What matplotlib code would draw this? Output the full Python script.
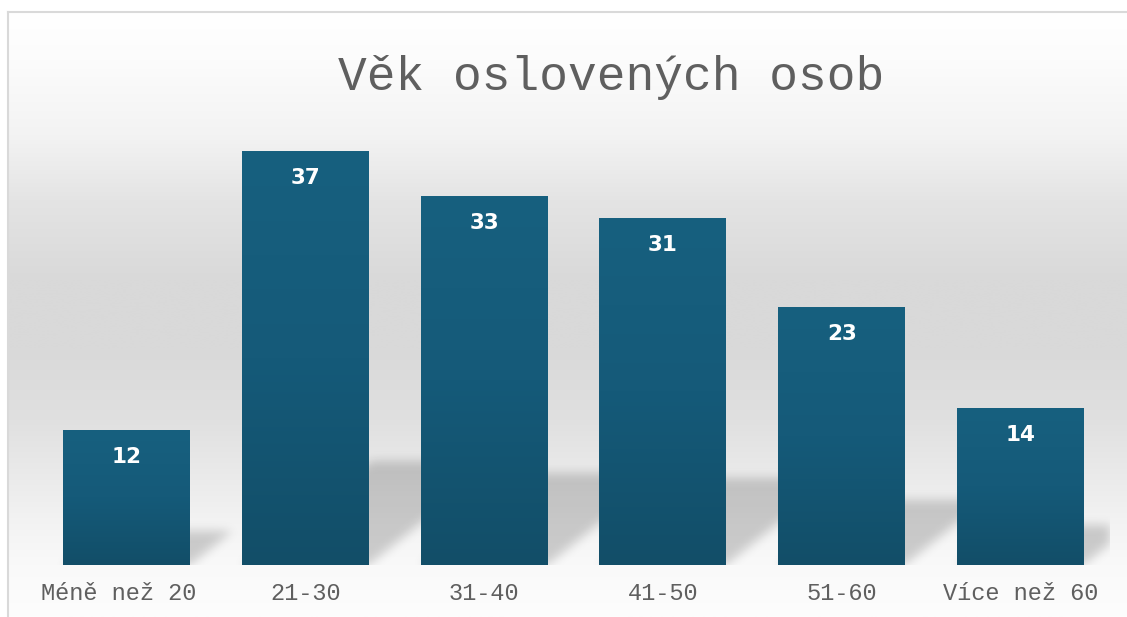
import numpy as np
import matplotlib.pyplot as plt
import matplotlib.transforms as mtransforms
from matplotlib.colors import LinearSegmentedColormap
from matplotlib.lines import Line2D

categories = ["Méně než 20", "21-30", "31-40", "41-50", "51-60", "Více než 60"]
values = [12, 37, 33, 31, 23, 14]
title = "Věk oslovených osob"

W, H, DPI = 1127, 617, 100
fig = plt.figure(figsize=(W / DPI, H / DPI), dpi=DPI)
fig.patch.set_facecolor("white")

# pozadi s prechodem (svisle)
bg = fig.add_axes([8 / W, 0, 1 - 8 / W, 1 - 12 / H])
bg.set_axis_off()
stops_y = np.array([12, 60, 135, 200, 280, 350, 420, 480, 530, 565, 617])
stops_v = np.array([255, 252, 243, 228, 217, 217, 224, 235, 244, 249, 253]) / 255
yy = np.linspace(12, 617, 400)
grad = np.interp(yy, stops_y, stops_v)
bg.imshow(np.repeat(grad[:, None], 2, axis=1)[:, :, None].repeat(3, axis=2),
          aspect="auto", extent=(0, 1, 0, 1), interpolation="bilinear")

# ramecek
fig.add_artist(Line2D([8 / W, 8 / W], [0, 1 - 12 / H], color="#d9d9d9", lw=1.5))
fig.add_artist(Line2D([8 / W, 1], [1 - 12 / H, 1 - 12 / H], color="#d9d9d9", lw=1.5))

ax = fig.add_axes([37 / W, 1 - 565 / H, (1110 - 37) / W, (565 - 118) / H])
ax.patch.set_alpha(0)
ymax = 40
ax.set_xlim(-0.5, len(values) - 0.5)
ax.set_ylim(0, ymax)

width = 0.71
x = np.arange(len(values))

# stiny za sloupci (rozmazane rovnobezniky)
nx, ny = 1073, 447
gx = np.linspace(-0.5, len(values) - 0.5, nx)
gy = np.linspace(0, ymax, ny)
GX, GY = np.meshgrid(gx, gy)
mask = np.zeros_like(GX)
px_x = nx / len(values)   # pixely na jednotku x
px_y = ny / ymax          # pixely na jednotku y
for xi, v in zip(x, values):
    hs = 0.25 * v
    k = 1.25 * px_y / px_x  # posun v x na jednotku y
    left = xi - width / 2 + GY * k
    right = xi + width / 2 + GY * k
    inside = (GY <= hs) & (GX >= left) & (GX <= right)
    mask[inside] = 1.0

def blur(a, s):
    r = int(3 * s)
    t = np.arange(-r, r + 1)
    kern = np.exp(-t ** 2 / (2 * s ** 2))
    kern /= kern.sum()
    a = np.apply_along_axis(lambda m: np.convolve(m, kern, mode="same"), 0, a)
    a = np.apply_along_axis(lambda m: np.convolve(m, kern, mode="same"), 1, a)
    return a

mask = blur(mask, 5)
shadow = np.zeros((ny, nx, 4))
shadow[..., 3] = mask * 0.18
ax.imshow(shadow, origin="lower", aspect="auto",
          extent=(-0.5, len(values) - 0.5, 0, ymax), zorder=1)

# sloupce s prechodem
cmap = LinearSegmentedColormap.from_list("bar", ["#124e68", "#155a79", "#17607f"])
g = np.linspace(0, 1, 256)[:, None]
for xi, v in zip(x, values):
    ax.imshow(g, cmap=cmap, origin="lower", aspect="auto",
              extent=(xi - width / 2, xi + width / 2, 0, v), zorder=2)
    ax.annotate(str(v), (xi, v), xytext=(0, -19), textcoords="offset points",
                ha="center", va="center", color="white", fontsize=15.5,
                fontweight="bold", family="DejaVu Sans", zorder=3)

ax.set_xlim(-0.5, len(values) - 0.5)
ax.set_ylim(0, ymax)
ax.set_xticks(x)
ax.set_xticklabels(categories, family="Liberation Mono", fontsize=17, color="#5f5f5f")
ax.tick_params(axis="x", length=0, pad=12)
# prvni popisek je v originale posunuty doleva
lab0 = ax.get_xticklabels()[0]
lab0.set_transform(lab0.get_transform() +
                   mtransforms.ScaledTranslation(-0.08, 0, fig.dpi_scale_trans))
ax.set_yticks([])
for s in ax.spines.values():
    s.set_visible(False)

fig.text(611 / W, 1 - 77 / H, title, ha="center", va="center",
         family="Liberation Mono", fontsize=34.5, color="#5f5f5f")

fig.savefig("out.png", dpi=DPI)
